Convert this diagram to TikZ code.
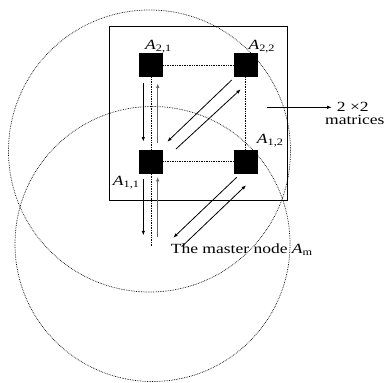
\documentclass[tikz,border=0pt]{standalone}
\usepackage{fontspec}
\setmainfont{Liberation Serif}[FakeStretch=1.25]
\usetikzlibrary{arrows.meta,calc}
\begin{document}
\begin{tikzpicture}[x=1pt, y=-1pt,
    cell/.style={rectangle, fill=black, minimum size=24pt, inner sep=0pt},
    link/.style={densely dotted, line width=0.7pt},
    arrow/.style={-{Latex[length=4.5pt,width=3.5pt]}, line width=0.8pt},
    lbl/.style={anchor=base west, inner sep=0pt, font=\fontsize{14}{16}\selectfont}
]
    \useasboundingbox (0,0) rectangle (387,382);
    % ranges of the master node
    \draw[link] (149.5,151) circle[radius=141pt];
    \draw[link] (152.5,244) circle[radius=137.5pt];
    \draw[line width=0.8pt] (109.7,26.7) rectangle (287.3,200.3);

    \node[cell] (a21) at (151,65) {};
    \node[cell] (a22) at (245.7,65) {};
    \node[cell] (a11) at (151,161.7) {};
    \node[cell] (a12) at (245.7,161.7) {};
    \coordinate (tail) at (151,246);
    \coordinate (inner) at (266.7,107.3);

    \node[lbl] (l21) at (145,49.3) {\textit{A}\textsubscript{2,1}};
    \node[lbl] (l22) at (248.3,49.3) {\textit{A}\textsubscript{2,2}};
    \node[lbl] (l12) at (256.7,143.3) {\textit{A}\textsubscript{1,2}};
    \node[lbl] (l11) at (112.7,185) {\textit{A}\textsubscript{1,1}};
    \node[lbl] (master) at (170.7,253.3) {The master node \textit{A}\textsubscript{m}};
    \node[lbl] (dim) at (336.7,111.7) {2 ×2};
    \node[lbl] (mat) at (325,124.5) {matrices};

    \draw[link] (a21) -- (a22);
    \draw[link] (a22) -- (a12);
    \draw[link] (a11) -- (a12);
    \draw[link] (a21) -- (a11);
    \draw[link] (a11) -- (tail);

    \draw[arrow] ($(a21.south)+(-7.7,5.7)$) -- ($(a11.north)+(-7.7,-8)$);
    \draw[arrow, black!60] ($(a11.north)+(6.7,-6.4)$) -- ($(a21.south)+(6.7,6.3)$);
    \draw[arrow] ($(a11.south)+(-7.7,5)$) -- ($(tail)+(-7.7,-10.7)$);
    \draw[arrow, black!60] ($(tail)+(6.7,-9.3)$) -- ($(a11.south)+(6.7,3)$);

    \draw[arrow] ($(a22)+(-14,15)$) -- ($(a11)+(16.3,-20)$);
    \draw[arrow] ($(a11)+(25,-12.7)$) -- ($(a22)+(-5,24.3)$);
    \draw[arrow] ($(a12)+(-9,15.6)$) -- ($(master.base west)+(2.6,-15.6)$);
    \draw[arrow] ($(master.base west)+(11,-6.6)$) -- ($(a12)+(0.3,23.6)$);

    \draw[arrow] (inner) -- ($(inner -| dim.west)+(-5,0)$);
\end{tikzpicture}
\end{document}
